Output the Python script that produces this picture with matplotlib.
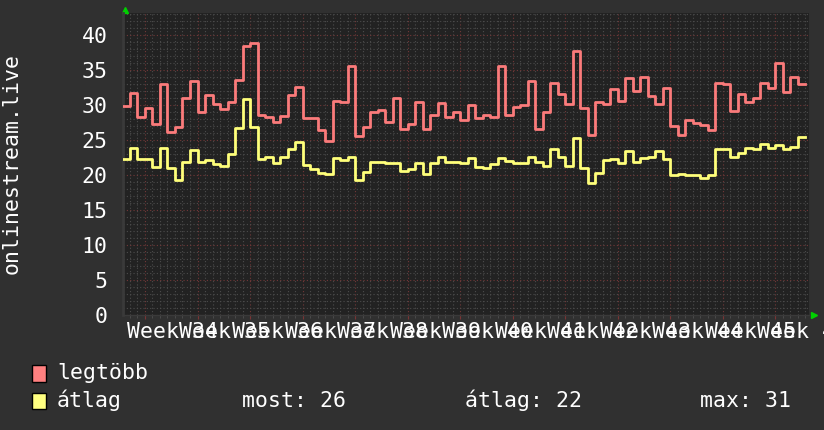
import numpy as np
import matplotlib
matplotlib.use("Agg")
import matplotlib.pyplot as plt
from matplotlib import ticker
from matplotlib.patches import Rectangle

# napi értékek, az első nap csak részben látszik
legtobb = [29.8, 31.7, 28.3, 29.5, 27.2, 32.9, 26.1, 26.8, 31.0, 33.4,
           29.0, 31.4, 30.1, 29.4, 30.4, 33.6, 38.4, 38.8, 28.5, 28.3,
           27.6, 28.4, 31.4, 32.5, 28.1, 28.1, 26.4, 24.9, 30.5, 30.4,
           35.5, 25.5, 26.9, 29.0, 29.3, 27.5, 30.9, 26.5, 27.2, 30.4,
           26.5, 28.5, 30.3, 28.3, 28.9, 27.8, 30.0, 28.1, 28.5, 28.3,
           35.6, 28.5, 29.7, 30.0, 33.4, 26.5, 29.0, 33.1, 31.6, 30.1,
           37.7, 29.5, 25.7, 30.4, 30.1, 32.2, 30.5, 33.8, 32.0, 34.0,
           31.2, 30.1, 32.4, 27.0, 25.7, 27.9, 27.4, 27.1, 26.4, 33.1,
           33.0, 29.1, 31.5, 30.4, 31.0, 33.1, 32.4, 35.9, 31.8, 33.9,
           33.0]
atlag = [22.3, 23.9, 22.3, 22.3, 21.1, 23.9, 21.0, 19.2, 21.8, 23.6,
         21.8, 22.1, 21.6, 21.2, 23.0, 26.7, 30.8, 26.8, 22.3, 22.5,
         21.7, 22.5, 23.7, 24.7, 21.4, 20.9, 20.3, 20.1, 22.4, 22.1,
         22.6, 19.2, 20.4, 21.8, 21.8, 21.7, 21.7, 20.6, 20.9, 21.7,
         20.1, 21.7, 22.6, 21.8, 21.8, 21.7, 22.4, 21.1, 21.0, 21.6,
         22.4, 22.0, 21.7, 21.7, 22.6, 21.9, 21.3, 23.7, 22.6, 21.3,
         25.2, 21.0, 18.8, 20.3, 22.1, 22.3, 21.7, 23.4, 21.8, 22.4,
         22.6, 23.4, 22.3, 20.0, 20.1, 20.0, 20.0, 19.5, 20.0, 23.7,
         23.7, 22.6, 23.1, 23.8, 23.7, 24.4, 23.8, 24.3, 23.7, 24.0,
         25.4]
hetek = ['Week %d' % h for h in range(34, 47)]
y_ticks = [0, 5, 10, 15, 20, 25, 30, 35, 40]
most_txt = 'most: 26'
atlag_txt = 'átlag: 22'
max_txt = 'max: 31'

BG = '#303030'
PLOT_BG = '#222222'
RED = '#fb7b7b'
YELLOW = '#ffff7a'
FONT = 'DejaVu Sans Mono'
FS = 15.5

fig = plt.figure(figsize=(8.24, 4.30), dpi=100, facecolor=BG)
# rajzterület pixelben: x 123..809, y 13..315
ax = fig.add_axes([123/824, 1-315/430, 686/824, 302/430])
ax.set_facecolor(PLOT_BG)

x = np.arange(-1, len(legtobb) - 1)
xs = np.append(x, x[-1] + 1)
ax.plot(xs, legtobb + [legtobb[-1]], drawstyle='steps-post', color=RED, lw=2.0, zorder=3)
ax.plot(xs, atlag + [atlag[-1]], drawstyle='steps-post', color=YELLOW, lw=2.0, zorder=3)

ax.set_xlim(-0.933, 90.53)
ax.set_ylim(0, 43.1)

ax.xaxis.set_major_locator(ticker.FixedLocator(np.arange(2, 90, 7)))
ax.xaxis.set_minor_locator(ticker.MultipleLocator(1))
ax.yaxis.set_major_locator(ticker.FixedLocator(y_ticks))
ax.yaxis.set_minor_locator(ticker.MultipleLocator(1))
ax.grid(which='minor', color='#4c4c4c', linestyle=(0, (1, 2)), linewidth=0.8)
ax.grid(which='major', color='#733838', linestyle=(0, (1, 2)), linewidth=0.8)
ax.set_axisbelow(True)

ax.set_xticklabels([])
ax.tick_params(axis='x', which='major', length=3, color='#7a3535', direction='out')
ax.tick_params(axis='x', which='minor', length=2, color='#505050', direction='out')
ax.tick_params(axis='y', which='both', length=0, pad=11, labelcolor='white', labelsize=FS)
for lab in ax.get_yticklabels():
    lab.set_family(FONT)

for s in ['top', 'right']:
    ax.spines[s].set_visible(False)
ax.spines['left'].set_color('#3a3a3a')
ax.spines['left'].set_linewidth(2)
ax.spines['bottom'].set_color('#3a3a3a')
ax.spines['bottom'].set_linewidth(1)

# heti feliratok, egymásra lógnak mint az eredetin
for k, h in enumerate(hetek):
    ax.annotate(h, xy=(-0.4 + 7*k, 0), xycoords=('data', 'axes fraction'),
                xytext=(0, -5), textcoords='offset points', ha='left', va='top',
                color='white', fontsize=FS, family=FONT, annotation_clip=False)

# zöld nyilak
ax.plot([2/686], [1 + 3.5/302], marker='^', color='#00d000', markersize=4,
        transform=ax.transAxes, clip_on=False)
ax.plot([1 + 5/686], [0], marker='>', color='#00d000', markersize=4,
        transform=ax.transAxes, clip_on=False)

fig.text(12/824, 1-164/430, 'onlinestream.live', rotation=90, ha='center', va='center',
         color='white', fontsize=FS, family=FONT)

# jelmagyarázat
fig.add_artist(Rectangle((32/824, 1-382/430), 14/824, 17/430, transform=fig.transFigure,
                         facecolor='#ff8080', edgecolor='black', lw=1))
fig.add_artist(Rectangle((32/824, 1-409/430), 14/824, 16/430, transform=fig.transFigure,
                         facecolor='#ffff80', edgecolor='black', lw=1))
fig.text(57/824, 1-379/430, 'legtöbb', color='white', fontsize=FS, family=FONT, va='baseline')
fig.text(57/824, 1-407/430, 'átlag', color='white', fontsize=FS, family=FONT, va='baseline')
fig.text(242/824, 1-407/430, most_txt, color='white', fontsize=FS, family=FONT, va='baseline')
fig.text(465/824, 1-407/430, atlag_txt, color='white', fontsize=FS, family=FONT, va='baseline')
fig.text(700/824, 1-407/430, max_txt, color='white', fontsize=FS, family=FONT, va='baseline')

fig.savefig('out.png', dpi=100, facecolor=BG)
